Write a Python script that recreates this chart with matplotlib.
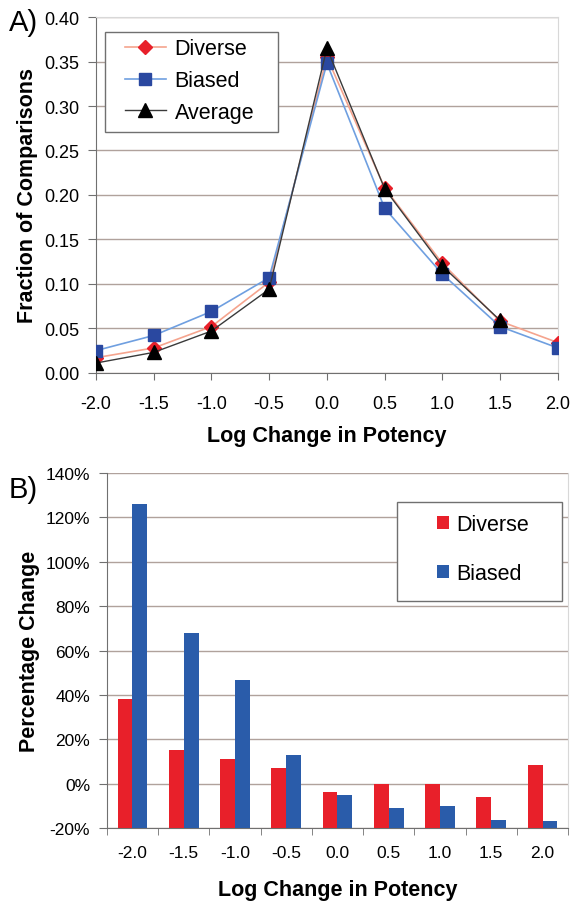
import numpy as np
import matplotlib
matplotlib.use("Agg")
import matplotlib.pyplot as plt
from matplotlib.ticker import FuncFormatter, MultipleLocator
from matplotlib.patches import Rectangle

plt.rcParams['font.family'] = ['Liberation Sans', 'DejaVu Sans']

log_change = [-2.0, -1.5, -1.0, -0.5, 0.0, 0.5, 1.0, 1.5, 2.0]
tick_labels = ["-2.0", "-1.5", "-1.0", "-0.5", "0.0", "0.5", "1.0", "1.5", "2.0"]

frac_diverse = [0.017, 0.028, 0.052, 0.102, 0.355, 0.208, 0.123, 0.058, 0.034]
frac_biased = [0.025, 0.042, 0.069, 0.107, 0.348, 0.185, 0.111, 0.052, 0.028]
frac_average = [0.011, 0.023, 0.047, 0.094, 0.365, 0.207, 0.120, 0.059, np.nan]

pct_diverse = [38, 15, 11, 7.2, -3.6, 0, 0, -6, 8.6]
pct_biased = [126, 67.7, 46.5, 13, -5, -10.8, -10, -16.3, -17]

grid_col = '#b0a29c'
fig = plt.figure(figsize=(5.71, 9.03), dpi=100)

# ---------- Panel A ----------
axA = fig.add_axes([0.168, 0.586, 0.809, 0.394])
axA.plot(log_change, frac_diverse, color='#f5a48e', lw=1.2, marker='D', ms=7,
         mfc='#e8202a', mec='#e8202a', label='Diverse', zorder=3)
axA.plot(log_change, frac_biased, color='#6f9fe0', lw=1.2, marker='s', ms=9,
         mfc='#2a48a0', mec='#2a48a0', label='Biased', zorder=4)
axA.plot(log_change, frac_average, color='#3a3a3a', lw=1.0, marker='^', ms=10,
         mfc='black', mec='black', label='Average', zorder=5)
axA.set_xlim(-2.0, 2.0)
axA.set_ylim(0, 0.40)
axA.yaxis.set_major_locator(MultipleLocator(0.05))
axA.yaxis.set_major_formatter(FuncFormatter(lambda v, p: f"{v:.2f}"))
axA.set_xticks(log_change)
axA.set_xticklabels(tick_labels)
axA.grid(axis='y', color=grid_col, lw=1.0)
axA.set_axisbelow(True)
for s in ['top', 'right']:
    axA.spines[s].set_color('#d8d8d8')
for s in ['left', 'bottom']:
    axA.spines[s].set_color('#707070')
axA.tick_params(axis='both', labelsize=13, length=5, color='#707070')
axA.tick_params(axis='x', pad=11)
axA.tick_params(axis='y', length=6, pad=6)
axA.set_ylabel('Fraction of Comparisons', fontsize=15.5, fontweight='bold', labelpad=4)
axA.set_xlabel('Log Change in Potency', fontsize=15.5, fontweight='bold', labelpad=9)
axA.add_patch(Rectangle((0.019, 0.677), 0.375, 0.281, transform=axA.transAxes,
                        facecolor='white', edgecolor='#707070', lw=1.0, zorder=6))
legA = axA.legend(loc='upper left', bbox_to_anchor=(0.063, 0.94), fontsize=15.5,
                  frameon=False, handlelength=1.9, labelspacing=0.5,
                  borderpad=0, borderaxespad=0, handletextpad=0.4)
legA.set_zorder(7)
fig.text(0.015, 0.975, 'A)', fontsize=21, ha='left', va='center')

# ---------- Panel B ----------
axB = fig.add_axes([0.187, 0.082, 0.808, 0.393])
x = np.arange(len(log_change))
w = 0.29
base = -20
axB.bar(x - w / 2, np.array(pct_diverse) - base, bottom=base, width=w,
        color='#e8202a', label='Diverse', zorder=3)
axB.bar(x + w / 2, np.array(pct_biased) - base, bottom=base, width=w,
        color='#2a5caa', label='Biased', zorder=3)
axB.set_xlim(-0.5, len(x) - 0.5)
axB.set_ylim(-20, 140)
axB.yaxis.set_major_locator(MultipleLocator(20))
axB.yaxis.set_major_formatter(FuncFormatter(lambda v, p: f"{v:.0f}%"))
axB.set_xticks(x)
axB.set_xticklabels(tick_labels)
axB.set_xticks(np.arange(-0.5, len(x), 1.0), minor=True)
axB.tick_params(axis='x', which='major', length=0, labelsize=12.5, pad=12)
axB.tick_params(axis='x', which='minor', length=5, color='#707070')
axB.tick_params(axis='y', labelsize=12.5, length=6, color='#707070', pad=6)
axB.grid(axis='y', color=grid_col, lw=1.0)
axB.set_axisbelow(True)
axB.spines['top'].set_visible(False)
axB.spines['right'].set_color('#d8d8d8')
for s in ['left', 'bottom']:
    axB.spines[s].set_color('#707070')
axB.set_ylabel('Percentage Change', fontsize=15.5, fontweight='bold', labelpad=4)
axB.set_xlabel('Log Change in Potency', fontsize=15.5, fontweight='bold', labelpad=14)
axB.add_patch(Rectangle((0.629, 0.639), 0.358, 0.279, transform=axB.transAxes,
                        facecolor='white', edgecolor='#707070', lw=1.0, zorder=6))
legB = axB.legend(loc='upper left', bbox_to_anchor=(0.716, 0.885), fontsize=15.5,
                  frameon=False, handlelength=0.55, handleheight=0.55,
                  labelspacing=1.3, borderpad=0, borderaxespad=0, handletextpad=0.35)
legB.set_zorder(7)
fig.text(0.015, 0.457, 'B)', fontsize=21, ha='left', va='center')

fig.savefig('out.png', dpi=100, facecolor='white')
